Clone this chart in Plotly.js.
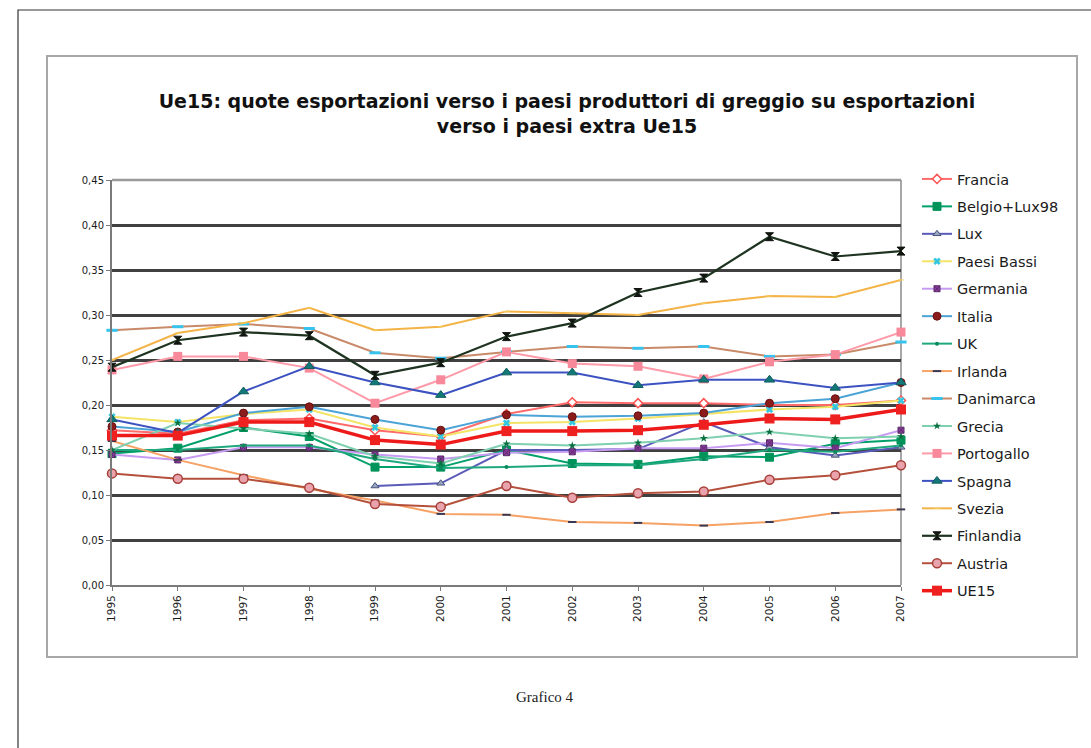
<!DOCTYPE html>
<html>
<head>
<meta charset="utf-8">
<script src="https://cdn.plot.ly/plotly-3.0.1.min.js"></script>
<style>
html,body{margin:0;padding:0;background:#fff;}
#chart{width:1091px;height:748px;}
</style>
</head>
<body>
<div id="chart"></div>
<script>
const years = [1995,1996,1997,1998,1999,2000,2001,2002,2003,2004,2005,2006,2007];
const yTicks = [0,0.05,0.10,0.15,0.20,0.25,0.30,0.35,0.40,0.45];

const francia    = [0.172,0.168,0.183,0.185,0.172,0.165,0.190,0.203,0.202,0.202,0.200,0.200,0.205];
const belgioLux  = [0.146,0.152,0.175,0.165,0.131,0.131,0.150,0.135,0.134,0.143,0.142,0.157,0.161];
const lux        = [null,null,null,null,0.110,0.113,0.150,0.150,0.151,0.181,0.153,0.144,0.153];
const paesiBassi = [0.187,0.181,0.190,0.195,0.175,0.165,0.180,0.181,0.185,0.190,0.195,0.198,0.205];
const germania   = [0.145,0.139,0.153,0.153,0.145,0.140,0.147,0.148,0.152,0.152,0.158,0.152,0.172];
const italia     = [0.176,0.170,0.191,0.198,0.184,0.172,0.189,0.187,0.188,0.191,0.202,0.207,0.225];
const uk         = [0.150,0.150,0.155,0.155,0.140,0.130,0.131,0.133,0.133,0.140,0.150,0.148,0.155];
const irlanda    = [0.160,0.139,0.122,0.107,0.094,0.079,0.078,0.070,0.069,0.066,0.070,0.080,0.084];
const danimarca  = [0.283,0.287,0.290,0.285,0.258,0.252,0.259,0.265,0.263,0.265,0.254,0.256,0.270];
const grecia     = [0.150,0.180,0.174,0.168,0.143,0.135,0.157,0.155,0.158,0.163,0.170,0.163,0.165];
const portogallo = [0.239,0.254,0.254,0.241,0.202,0.228,0.259,0.246,0.243,0.229,0.248,0.256,0.281];
const spagna     = [0.184,0.169,0.215,0.243,0.225,0.211,0.236,0.236,0.222,0.228,0.228,0.219,0.225];
const svezia     = [0.250,0.280,0.291,0.308,0.283,0.287,0.304,0.302,0.300,0.313,0.321,0.320,0.339];
const finlandia  = [0.242,0.272,0.281,0.277,0.233,0.247,0.276,0.291,0.325,0.341,0.387,0.365,0.371];
const austria    = [0.124,0.118,0.118,0.108,0.090,0.087,0.110,0.097,0.102,0.104,0.117,0.122,0.133];
const ue15       = [0.166,0.166,0.181,0.181,0.161,0.156,0.171,0.171,0.172,0.178,0.185,0.184,0.195];

const names = ["Francia","Belgio+Lux98","Lux","Paesi Bassi","Germania","Italia","UK","Irlanda",
               "Danimarca","Grecia","Portogallo","Spagna","Svezia","Finlandia","Austria","UE15"];
const series = [francia,belgioLux,lux,paesiBassi,germania,italia,uk,irlanda,
                danimarca,grecia,portogallo,spagna,svezia,finlandia,austria,ue15];

const styles = [
  {lc:'#ff6b6b', lw:2, m:{symbol:'diamond', size:7, color:'#ffffff', line:{color:'#ff5050', width:1.5}}},
  {lc:'#00a06a', lw:2, m:{symbol:'square', size:8, color:'#00935a', line:{color:'#00935a', width:1}}},
  {lc:'#5a5ab8', lw:2, m:{symbol:'triangle-up', size:7, color:'#9aa6c0', line:{color:'#44507a', width:1}}},
  {lc:'#f3e466', lw:2, m:{symbol:'x', size:6, color:'#33c6e0', line:{color:'#33c6e0', width:0.5}}},
  {lc:'#c79bf2', lw:2, m:{symbol:'square-x', size:6, color:'#8a3b9e', line:{color:'#5a2a6a', width:1}}},
  {lc:'#4ba3d6', lw:2, m:{symbol:'circle', size:8, color:'#8a1c1c', line:{color:'#6a1010', width:1}}},
  {lc:'#1fa87e', lw:2, m:{symbol:'circle', size:4, color:'#0a8a5a', line:{color:'#0a8a5a', width:0}}},
  {lc:'#f6a265', lw:2, m:{symbol:'line-ew-open', size:6, color:'#3a3a55', line:{color:'#3a3a55', width:2}}},
  {lc:'#c98a6a', lw:2, m:{symbol:'line-ew-open', size:8, color:'#36c3ee', line:{color:'#36c3ee', width:3}}},
  {lc:'#7fd0b0', lw:2, m:{symbol:'star', size:6, color:'#0a7040', line:{color:'#0a7040', width:0}}},
  {lc:'#ff9aa8', lw:2, m:{symbol:'square', size:9, color:'#f7899a', line:{color:'#f7899a', width:0}}},
  {lc:'#3c52c0', lw:2, m:{symbol:'triangle-up', size:9, color:'#137878', line:{color:'#0d5c5c', width:1}}},
  {lc:'#f4b347', lw:2, m:{symbol:'line-ew-open', size:4, color:'#f4d060', line:{color:'#f4d060', width:1}}},
  {lc:'#1e3320', lw:2.2, m:{symbol:'hourglass', size:8, color:'#101510', line:{color:'#101510', width:1}}},
  {lc:'#b4503c', lw:2, m:{symbol:'circle', size:9, color:'#e9a3ad', line:{color:'#a8403a', width:1.5}}},
  {lc:'#ee1a1a', lw:3.5, m:{symbol:'square', size:10, color:'#ee2020', line:{color:'#ee2020', width:0}}}
];

const traces = names.map((n, i) => ({
  type: 'scatter',
  mode: 'lines+markers',
  name: n,
  legendgroup: n,
  x: years,
  y: series[i],
  connectgaps: false,
  cliponaxis: false,
  line: {color: styles[i].lc, width: styles[i].lw},
  marker: styles[i].m
}));

// pixel -> paper helpers
const L = 112, R = 901, T = 180, B = 585;
const px = v => (v - L) / (R - L);
const py = v => (B - v) / (B - T);
const FONT = '"DejaVu Sans", Arial, sans-serif';

const layout = {
  width: 1091, height: 748,
  margin: {l: L, r: 1091 - R, t: T, b: 748 - B, pad: 0},
  paper_bgcolor: '#ffffff',
  plot_bgcolor: '#ffffff',
  font: {family: FONT, color: '#1a1a1a', size: 10},
  separators: ',.',
  showlegend: true,
  title: {
    text: '<b>Ue15: quote esportazioni verso i paesi produttori di greggio su esportazioni<br>verso i paesi extra Ue15</b>',
    font: {family: FONT, size: 19, color: '#111'},
    x: 567 / 1091, xanchor: 'center', xref: 'container',
    y: 1 - 108 / 748, yanchor: 'top', yref: 'container'
  },
  xaxis: {
    range: [1995, 2007],
    tickvals: years,
    ticktext: years.map(String),
    tickangle: -90,
    tickfont: {size: 10.5, color: '#1a1a1a', family: FONT},
    showgrid: false,
    zeroline: false,
    showline: true, linecolor: '#7a7a7a', linewidth: 2,
    ticks: 'outside', ticklen: 4, tickcolor: '#7a7a7a',
    fixedrange: true
  },
  yaxis: {
    range: [0, 0.45],
    tickvals: yTicks,
    tickformat: '.2f',
    tickfont: {size: 10, color: '#1a1a1a', family: FONT},
    showgrid: true, gridcolor: '#404040', gridwidth: 3,
    zeroline: false,
    showline: true, linecolor: '#7a7a7a', linewidth: 2,
    ticks: 'outside', ticklen: 4, tickcolor: '#7a7a7a',
    fixedrange: true
  },
  legend: {
    x: px(917), xanchor: 'left',
    y: py(163), yanchor: 'top',
    traceorder: 'grouped',
    tracegroupgap: 5.6,
    maxheight: 740,
    font: {size: 14.5, color: '#1a1a1a', family: FONT},
    bgcolor: 'rgba(0,0,0,0)',
    itemwidth: 30
  },
  shapes: [
    {type: 'rect', xref: 'paper', yref: 'paper', x0: px(18), x1: px(1095), y0: py(770), y1: py(10),
     line: {color: '#333', width: 1.2}, fillcolor: 'rgba(0,0,0,0)', layer: 'below'},
    {type: 'rect', xref: 'paper', yref: 'paper', x0: px(47), x1: px(1077), y0: py(657), y1: py(56),
     line: {color: '#a8a8a8', width: 2}, fillcolor: 'rgba(0,0,0,0)', layer: 'below'},
    {type: 'line', xref: 'paper', yref: 'paper', x0: 0, x1: 1, y0: 1, y1: 1,
     line: {color: '#9a9a9a', width: 2.6}, layer: 'between'},
    {type: 'line', xref: 'paper', yref: 'paper', x0: 1, x1: 1, y0: 0, y1: 1,
     line: {color: '#8a8a8a', width: 1.5}, layer: 'between'}
  ],
  annotations: [
    {text: 'Grafico 4', xref: 'paper', yref: 'paper', x: px(545), y: py(697),
     xanchor: 'center', yanchor: 'middle', showarrow: false,
     font: {family: '"Liberation Serif", "Times New Roman", serif', size: 15, color: '#222'}}
  ]
};

Plotly.newPlot('chart', traces, layout, {displayModeBar: false, staticPlot: true});
</script>
</body>
</html>
